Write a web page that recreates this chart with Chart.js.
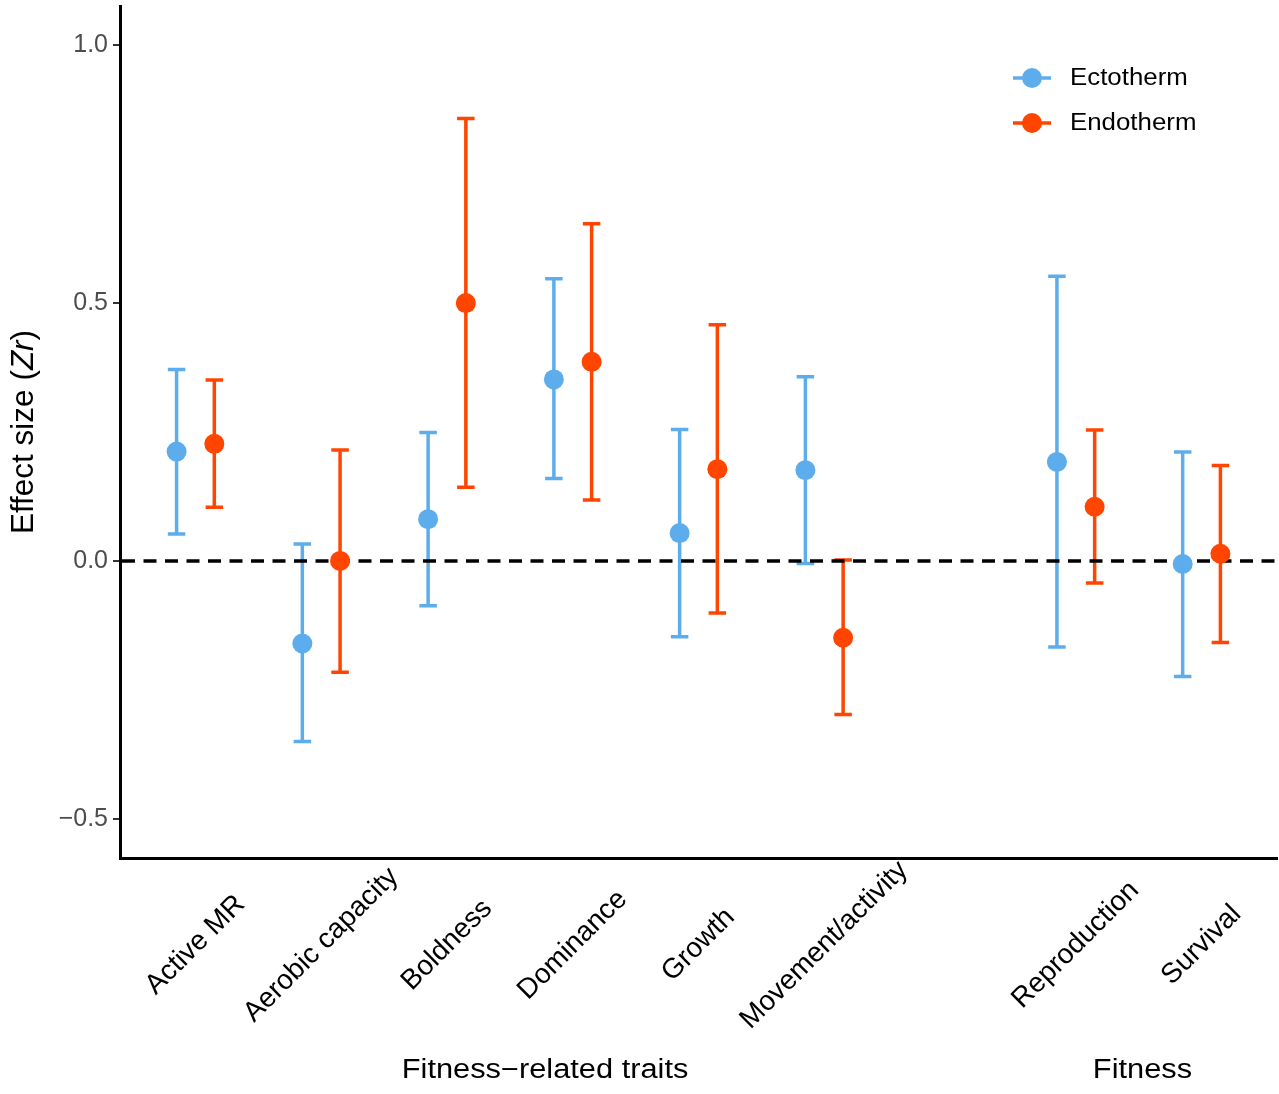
<!DOCTYPE html>
<html>
<head>
<meta charset="utf-8">
<script src="https://cdn.jsdelivr.net/npm/chart.js@4.4.0/dist/chart.umd.min.js"></script>
<style>
  html, body { margin: 0; padding: 0; background: #ffffff; }
</style>
</head>
<body>
<canvas id="effectChart" width="1279" height="1094"></canvas>
<script>
// Traços e grupos
const traits = ['Active MR', 'Aerobic capacity', 'Boldness', 'Dominance', 'Growth', 'Movement/activity', 'Reproduction', 'Survival'];
const traitGroups = ['Fitness\u2212related traits', 'Fitness\u2212related traits', 'Fitness\u2212related traits',
    'Fitness\u2212related traits', 'Fitness\u2212related traits', 'Fitness\u2212related traits', 'Fitness', 'Fitness'];

// Ectotérmicos: média e intervalo
const ectoMean  = [0.212, -0.160, 0.081, 0.352, 0.054, 0.176, 0.192, -0.006];
const ectoLower = [0.052, -0.350, -0.087, 0.160, -0.147, -0.005, -0.167, -0.224];
const ectoUpper = [0.371, 0.033, 0.249, 0.547, 0.255, 0.357, 0.552, 0.211];

// Endotérmicos: média e intervalo
const endoMean  = [0.227, 0.000, 0.500, 0.386, 0.178, -0.149, 0.105, 0.014];
const endoLower = [0.104, -0.216, 0.143, 0.118, -0.101, -0.298, -0.043, -0.158];
const endoUpper = [0.351, 0.215, 0.858, 0.654, 0.458, 0.002, 0.254, 0.185];

const yTicks = [-0.5, 0, 0.5, 1.0];

const ECTO_COLOR = '#5DADEC';
const ENDO_COLOR = '#FF4500';
const FONT = '"Liberation Sans", Arial, sans-serif';
const DODGE = 0.15;

// posição de cada traço no eixo x (uma vaga extra entre grupos)
const slots = [];
traits.forEach((t, i) => {
    if (i === 0) slots.push(0);
    else slots.push(slots[i - 1] + (traitGroups[i] !== traitGroups[i - 1] ? 2 : 1));
});

// centro dos rótulos de grupo (em unidades do eixo x)
const groupNames = ['Fitness\u2212related traits', 'Fitness'];
const groupLabelX = [2.78, 7.53];

function toPoints(values, offset) {
    return values.map((v, i) => ({ x: slots[i] + offset, y: v }));
}

// texto com esticamento horizontal opcional
function drawText(ctx, text, x, y, size, opts) {
    opts = opts || {};
    ctx.save();
    ctx.translate(x, y);
    if (opts.angle) ctx.rotate(opts.angle);
    ctx.scale(opts.stretch || 1, 1);
    ctx.font = (opts.italic ? 'italic ' : '') + size + 'px ' + FONT;
    ctx.fillStyle = opts.color || '#000';
    ctx.textAlign = opts.align || 'center';
    ctx.textBaseline = 'middle';
    ctx.fillText(text, 0, 0);
    ctx.restore();
}

// Barras de erro + linha tracejada em zero
const errorBarPlugin = {
    id: 'errorBars',
    beforeDatasetsDraw(chart) {
        const { ctx, chartArea, scales: { y } } = chart;
        chart.data.datasets.forEach((ds, di) => {
            const meta = chart.getDatasetMeta(di);
            ctx.save();
            ctx.strokeStyle = ds.borderColor;
            ctx.lineWidth = 3.5;
            meta.data.forEach((pt, i) => {
                const yLo = y.getPixelForValue(ds.errLower[i]);
                const yHi = y.getPixelForValue(ds.errUpper[i]);
                ctx.beginPath();
                ctx.moveTo(pt.x, yLo); ctx.lineTo(pt.x, yHi);
                ctx.moveTo(pt.x - 8.75, yLo); ctx.lineTo(pt.x + 8.75, yLo);
                ctx.moveTo(pt.x - 8.75, yHi); ctx.lineTo(pt.x + 8.75, yHi);
                ctx.stroke();
            });
            ctx.restore();
        });

        const y0 = y.getPixelForValue(0);
        ctx.save();
        ctx.strokeStyle = '#000';
        ctx.lineWidth = 3.5;
        ctx.setLineDash([13, 8.5]);
        ctx.beginPath();
        ctx.moveTo(chartArea.left + 2, y0);
        ctx.lineTo(chartArea.right, y0);
        ctx.stroke();
        ctx.restore();
    }
};

// Rótulos do eixo x, títulos e legenda
const labelsPlugin = {
    id: 'labels',
    afterDraw(chart) {
        const { ctx, chartArea, scales: { x } } = chart;

        traits.forEach((t, i) => {
            drawText(ctx, t, x.getPixelForValue(slots[i]), chartArea.bottom + 87, 28, { angle: -Math.PI / 4 });
        });

        groupNames.forEach((g, i) => {
            drawText(ctx, g, x.getPixelForValue(groupLabelX[i]), 1071, 27, { stretch: 1.14 });
        });

        // título do eixo y: "Effect size (Zr)" com Zr em itálico
        ctx.save();
        ctx.translate(24, (chartArea.top + chartArea.bottom) / 2);
        ctx.rotate(-Math.PI / 2);
        const parts = [['Effect size (', false], ['Zr', true], [')', false]];
        let total = 0;
        parts.forEach(p => {
            ctx.font = (p[1] ? 'italic ' : '') + '31.5px ' + FONT;
            total += ctx.measureText(p[0]).width;
        });
        let cx = -total / 2;
        ctx.fillStyle = '#000';
        ctx.textBaseline = 'middle';
        ctx.textAlign = 'left';
        parts.forEach(p => {
            ctx.font = (p[1] ? 'italic ' : '') + '31.5px ' + FONT;
            ctx.fillText(p[0], cx, 0);
            cx += ctx.measureText(p[0]).width;
        });
        ctx.restore();

        // legenda
        chart.data.datasets.forEach((ds, i) => {
            const lx = chartArea.right - 245;
            const ly = chartArea.top + 72 + i * 45;
            ctx.save();
            ctx.strokeStyle = ds.borderColor;
            ctx.lineWidth = 3.5;
            ctx.beginPath();
            ctx.moveTo(lx - 19, ly); ctx.lineTo(lx + 19, ly);
            ctx.stroke();
            ctx.fillStyle = ds.backgroundColor;
            ctx.beginPath();
            ctx.arc(lx, ly, 10, 0, Math.PI * 2);
            ctx.fill();
            ctx.restore();
            drawText(ctx, ds.label, lx + 38, ly + 1, 23.5, { align: 'left', stretch: 1.1 });
        });
    }
};

const ctx = document.getElementById('effectChart').getContext('2d');
new Chart(ctx, {
    type: 'scatter',
    data: {
        datasets: [{
            label: 'Ectotherm',
            data: toPoints(ectoMean, -DODGE),
            errLower: ectoLower,
            errUpper: ectoUpper,
            backgroundColor: ECTO_COLOR,
            borderColor: ECTO_COLOR,
            pointRadius: 10,
            pointBorderWidth: 0
        }, {
            label: 'Endotherm',
            data: toPoints(endoMean, DODGE),
            errLower: endoLower,
            errUpper: endoUpper,
            backgroundColor: ENDO_COLOR,
            borderColor: ENDO_COLOR,
            pointRadius: 10,
            pointBorderWidth: 0
        }]
    },
    options: {
        responsive: false,
        devicePixelRatio: 1,
        animation: false,
        layout: { autoPadding: false, padding: { top: 6, right: 2, left: 0, bottom: 0 } },
        plugins: {
            legend: { display: false },
            tooltip: { enabled: false }
        },
        scales: {
            x: {
                type: 'linear',
                min: -0.6,
                max: 8.6,
                ticks: { display: false },
                grid: { display: false },
                border: { display: true, color: '#000', width: 3 },
                afterFit: function (scale) {
                    scale.height = 236;
                    scale.paddingLeft = 0;
                    scale.paddingRight = 0;
                }
            },
            y: {
                min: -0.576,
                max: 1.076,
                afterBuildTicks: function (scale) {
                    scale.ticks = yTicks.map(v => ({ value: v }));
                },
                ticks: {
                    color: '#4D4D4D',
                    font: { family: FONT, size: 25 },
                    padding: 5,
                    callback: v => v.toFixed(1).replace('-', '\u2212')
                },
                grid: {
                    display: true,
                    drawOnChartArea: false,
                    drawTicks: true,
                    tickLength: 7,
                    color: '#333333',
                    lineWidth: 2
                },
                border: { display: true, color: '#000', width: 3 },
                afterFit: function (scale) {
                    scale.width = 120;
                    scale.paddingTop = 0;
                    scale.paddingBottom = 0;
                }
            }
        }
    },
    plugins: [errorBarPlugin, labelsPlugin]
});
</script>
</body>
</html>
